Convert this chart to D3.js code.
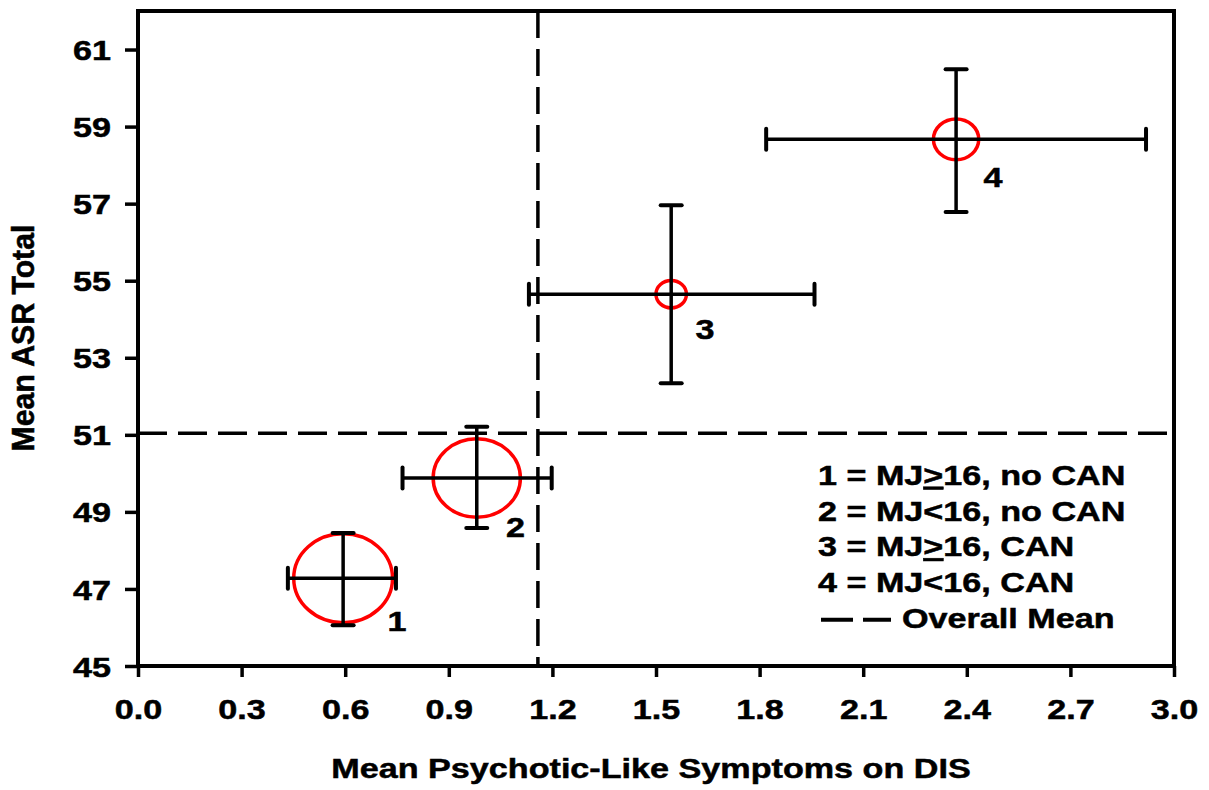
<!DOCTYPE html>
<html>
<head>
<meta charset="utf-8">
<script src="https://cdn.jsdelivr.net/npm/d3@7"></script>
<style>
  html, body { margin: 0; padding: 0; background: #fff; }
  text { font-family: "Liberation Sans", Arial, Helvetica, sans-serif; font-weight: bold; fill: #000; stroke: #000; stroke-width: 0.5px; }
</style>
</head>
<body>
<svg id="chart" width="1209" height="790"></svg>
<script>
// ---- data ----
const groupIds   = ["1", "2", "3", "4"];
const xMean      = [0.594, 0.981, 1.544, 2.369];
const yMean      = [47.28, 49.88, 54.65, 58.67];
const xLow       = [0.434, 0.766, 1.132, 1.819];
const xHigh      = [0.747, 1.198, 1.959, 2.919];
const yLow       = [46.06, 48.58, 52.34, 56.78];
const yHigh      = [48.45, 51.21, 56.96, 60.49];
const groupWeight = [1.00, 0.78, 0.095, 0.21];   // relative marker area
const labelX     = [0.750, 1.093, 1.642, 2.476]; // group-number annotation anchors (data units)
const labelY     = [45.90, 48.35, 53.50, 57.42];
const overallMeanX = 1.158;
const overallMeanY = 51.04;
const xTicks = [0.0, 0.3, 0.6, 0.9, 1.2, 1.5, 1.8, 2.1, 2.4, 2.7, 3.0];
const yTicks = [45, 47, 49, 51, 53, 55, 57, 59, 61];
const legendLabels = ["1 = MJ≥16, no CAN", "2 = MJ<16, no CAN", "3 = MJ≥16, CAN", "4 = MJ<16, CAN"];
const legendMeanLabel = "Overall Mean";
const xTitle = "Mean Psychotic-Like Symptoms on DIS";
const yTitle = "Mean ASR Total";

// ---- layout ----
const SX = 1.22;           // horizontal stretch of text
const FS = 28;
const plot = { left: 138, right: 1174, top: 11, bottom: 666 };

const svg = d3.select("#chart");
const x = d3.scaleLinear().domain([0, 3]).range([plot.left, plot.right]);
const y = d3.scaleLinear().domain([45, 62]).range([plot.bottom, plot.top]);
const r = d3.scaleSqrt().domain([0, 1]).range([0, 44.5]);
const ASPECT = 1.11;

function stretchedText(parent, px, py, str, anchor, sx) {
  const g = parent.append("g").attr("transform", `translate(${px},${py}) scale(${sx},1)`);
  return g.append("text").attr("text-anchor", anchor).style("font-size", FS + "px").text(str);
}

function styleTickText(sel) {
  sel.attr("fill", "#000")
    .style("font-size", FS + "px")
    .style("font-family", '"Liberation Sans", Arial, sans-serif')
    .style("font-weight", "bold")
    .style("stroke", "#000").style("stroke-width", "0.5px");
}

// axes (ticks + labels)
const yAxis = d3.axisLeft(y).tickValues(yTicks).tickSize(13).tickSizeOuter(0).tickFormat(d3.format("d"));
const gy = svg.append("g").attr("transform", `translate(${plot.left},0)`).call(yAxis);
gy.select(".domain").remove();
gy.selectAll(".tick line").attr("stroke", "#000").attr("stroke-width", 3.5);
gy.selectAll(".tick text")
  .attr("x", -27 / SX).attr("dy", "0.36em")
  .attr("transform", `scale(${SX},1)`)
  .call(styleTickText);

const xAxis = d3.axisBottom(x).tickValues(xTicks).tickSize(11).tickSizeOuter(0).tickFormat(d3.format(".1f"));
const gx = svg.append("g").attr("transform", `translate(0,${plot.bottom})`).call(xAxis);
gx.select(".domain").remove();
gx.selectAll(".tick line").attr("stroke", "#000").attr("stroke-width", 3.5);
gx.selectAll(".tick text")
  .attr("y", 53).attr("dy", "0")
  .attr("transform", `scale(${SX},1)`)
  .call(styleTickText);

// overall mean dashed lines
svg.append("line")
  .attr("x1", x(0)).attr("x2", x(3))
  .attr("y1", y(overallMeanY)).attr("y2", y(overallMeanY))
  .attr("stroke", "#000").attr("stroke-width", 3.5).attr("stroke-dasharray", "29,11");
svg.append("line")
  .attr("x1", x(overallMeanX)).attr("x2", x(overallMeanX))
  .attr("y1", y(62)).attr("y2", y(45))
  .attr("stroke", "#000").attr("stroke-width", 3.5).attr("stroke-dasharray", "27,11");

// plot frame
svg.append("rect")
  .attr("x", x(0)).attr("y", y(62))
  .attr("width", x(3) - x(0)).attr("height", y(45) - y(62))
  .attr("fill", "none").attr("stroke", "#000").attr("stroke-width", 4);

const data = groupIds.map((id, i) => ({
  id, x: xMean[i], y: yMean[i], xl: xLow[i], xh: xHigh[i], yl: yLow[i], yh: yHigh[i],
  w: groupWeight[i], lx: labelX[i], ly: labelY[i]
}));

// red ellipses
svg.append("g").selectAll("ellipse").data(data).join("ellipse")
  .attr("cx", d => x(d.x)).attr("cy", d => y(d.y))
  .attr("rx", d => r(d.w) * ASPECT).attr("ry", d => r(d.w))
  .attr("fill", "none").attr("stroke", "#ff0000").attr("stroke-width", 3.5);

// error bars
const eb = svg.append("g").attr("stroke", "#000");
const CAP = 10.5;
data.forEach(d => {
  eb.append("line").attr("x1", x(d.xl)).attr("x2", x(d.xh)).attr("y1", y(d.y)).attr("y2", y(d.y)).attr("stroke-width", 3.5);
  eb.append("line").attr("x1", x(d.x)).attr("x2", x(d.x)).attr("y1", y(d.yl)).attr("y2", y(d.yh)).attr("stroke-width", 3.5);
  [d.xl, d.xh].forEach(v => eb.append("line")
    .attr("x1", x(v)).attr("x2", x(v)).attr("y1", y(d.y) - CAP).attr("y2", y(d.y) + CAP)
    .attr("stroke-width", 4).attr("stroke-linecap", "round"));
  [d.yl, d.yh].forEach(v => eb.append("line")
    .attr("x1", x(d.x) - CAP).attr("x2", x(d.x) + CAP).attr("y1", y(v)).attr("y2", y(v))
    .attr("stroke-width", 4).attr("stroke-linecap", "round"));
});

// group number annotations
data.forEach(d => stretchedText(svg, x(d.lx), y(d.ly), d.id, "middle", SX));

// legend
const legX = 818, legY0 = 485, legDY = 35.7;
legendLabels.forEach((lab, i) => {
  const g = svg.append("g").attr("transform", `translate(${legX},${legY0 + i * legDY}) scale(${SX},1)`);
  const t = g.append("text").attr("text-anchor", "start").style("font-size", FS + "px");
  const parts = lab.split("≥");
  if (parts.length > 1) {
    t.append("tspan").text(parts[0]);
    t.append("tspan").style("text-decoration", "underline").text(">");
    t.append("tspan").text(parts[1]);
  } else {
    t.text(lab);
  }
});
const meanRowY = legY0 + 4 * legDY;
svg.append("line")
  .attr("x1", legX + 3).attr("x2", legX + 73)
  .attr("y1", meanRowY - 8).attr("y2", meanRowY - 8)
  .attr("stroke", "#000").attr("stroke-width", 4).attr("stroke-dasharray", "32,10");
stretchedText(svg, legX + 84, meanRowY, legendMeanLabel, "start", SX);

// axis titles
stretchedText(svg, 651, 778, xTitle, "middle", SX);
svg.append("g").attr("transform", `translate(34,338) rotate(-90) scale(1.08,1.1)`)
  .append("text").attr("text-anchor", "middle").style("font-size", FS + "px").text(yTitle);
</script>
</body>
</html>
